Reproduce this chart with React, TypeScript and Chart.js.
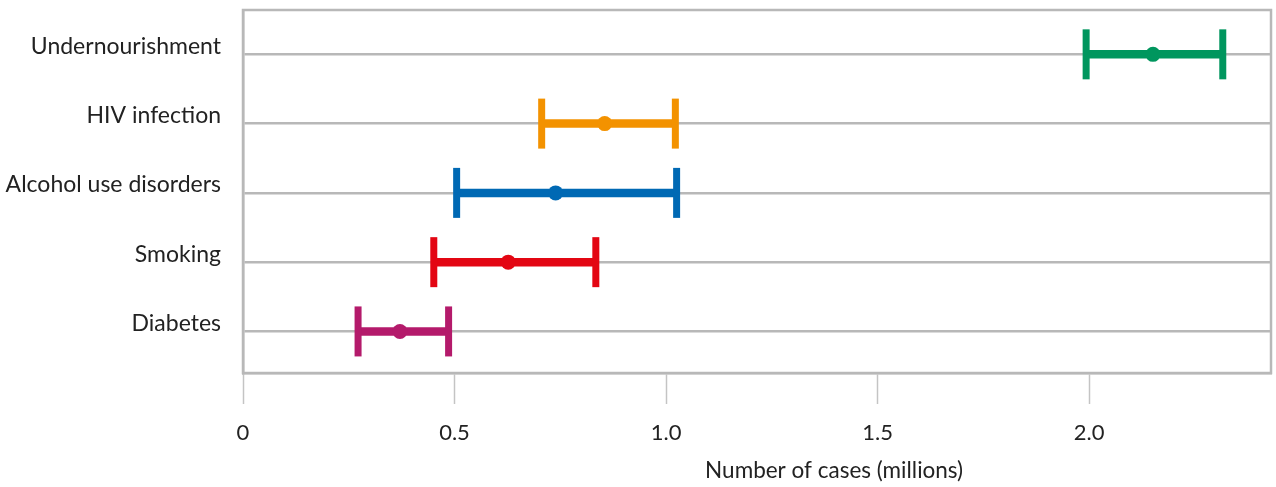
import React, { useEffect, useRef } from "react";
import { Chart, registerables } from "chart.js";

Chart.register(...registerables);

const CATEGORIES = ["Undernourishment", "HIV infection", "Alcohol use disorders", "Smoking", "Diabetes"];
const LOW = [1.993, 0.706, 0.505, 0.451, 0.272];
const MEAN = [2.151, 0.855, 0.739, 0.627, 0.371];
const HIGH = [2.316, 1.022, 1.025, 0.834, 0.486];
const COLORS = ["#00965e", "#f39200", "#0069b4", "#e30613", "#b41a6b"];
const X_TICKS = [0, 0.5, 1.0, 1.5, 2.0];
const X_TICK_LABELS = ["0", "0.5", "1.0", "1.5", "2.0"];
const X_TITLE = "Number of cases (millions)";

const FONT = "Lato, 'Open Sans', sans-serif";
const GRID = "#b8b8b8";
const TEXT = "#222222";

const boxPlugin = {
  id: "boxPlugin",
  beforeDatasetsDraw(chart: any) {
    const { ctx, chartArea } = chart;
    ctx.save();
    ctx.strokeStyle = GRID;
    ctx.lineWidth = 2.5;
    ctx.strokeRect(chartArea.left, chartArea.top, chartArea.right - chartArea.left, chartArea.bottom - chartArea.top);
    ctx.restore();
  },
  afterDraw(chart: any) {
    const { ctx, chartArea } = chart;
    ctx.save();
    ctx.fillStyle = TEXT;
    ctx.font = `22.5px ${FONT}`;
    ctx.textAlign = "center";
    ctx.textBaseline = "middle";
    const x = chartArea.left + (chartArea.right - chartArea.left) * 0.575;
    ctx.fillText(X_TITLE, x, 471);
    ctx.restore();
  },
};

export default function App() {
  const ref = useRef<HTMLCanvasElement>(null);

  useEffect(() => {
    document.body.style.margin = "0";
    const bars = CATEGORIES.map((c, i) => ({
      type: "line" as const,
      label: c,
      data: [
        { x: LOW[i], y: i },
        { x: HIGH[i], y: i },
      ],
      borderColor: COLORS[i],
      borderWidth: 8.5,
      pointStyle: "line" as const,
      pointRotation: 90,
      pointRadius: 25,
      pointHoverRadius: 25,
      pointBorderWidth: 7,
      pointBorderColor: COLORS[i],
      pointBackgroundColor: COLORS[i],
      clip: false,
      order: 1,
    }));
    const means = {
      type: "scatter" as const,
      label: "mean",
      data: MEAN.map((m, i) => ({ x: m, y: i })),
      backgroundColor: COLORS,
      borderWidth: 0,
      pointRadius: 7.5,
      clip: false,
      order: 0,
    };
    const chart = new Chart(ref.current as HTMLCanvasElement, {
      type: "line",
      data: { datasets: [...bars, means] as any },
      options: {
        animation: false,
        responsive: false,
        devicePixelRatio: 1,
        layout: { autoPadding: false, padding: { top: 10, right: 5, left: 0, bottom: 0 } },
        plugins: { legend: { display: false }, tooltip: { enabled: false } },
        scales: {
          x: {
            type: "linear",
            min: 0,
            max: 2.43,
            afterBuildTicks: (s: any) => {
              s.ticks = X_TICKS.map((v) => ({ value: v }));
            },
            afterFit: (s: any) => {
              s.height = 114;
              s.paddingLeft = 0;
              s.paddingRight = 0;
            },
            ticks: {
              callback: (v: any) => X_TICK_LABELS[X_TICKS.indexOf(Number(v))] ?? "",
              font: { family: FONT, size: 22 },
              color: TEXT,
              padding: 16,
              maxRotation: 0,
              autoSkip: false,
            },
            grid: {
              drawOnChartArea: false,
              drawTicks: true,
              tickLength: 31,
              tickColor: "#c4c4c4",
              tickWidth: 1.5,
            },
            border: { display: true, color: GRID, width: 2.5 },
          },
          y: {
            type: "linear",
            reverse: true,
            min: -0.64,
            max: 4.6,
            afterBuildTicks: (s: any) => {
              s.ticks = CATEGORIES.map((_, i) => ({ value: i }));
            },
            afterFit: (s: any) => {
              s.width = 243;
              s.paddingTop = 0;
              s.paddingBottom = 0;
            },
            ticks: {
              callback: (v: any) => CATEGORIES[Number(v)] ?? "",
              font: { family: FONT, size: 23 },
              color: TEXT,
              padding: 22,
              labelOffset: -8,
              autoSkip: false,
            },
            grid: {
              drawTicks: false,
              color: GRID,
              lineWidth: 2.5,
            },
            border: { display: true, color: GRID, width: 2.5 },
          },
        },
      },
      plugins: [boxPlugin],
    });
    return () => chart.destroy();
  }, []);

  return (
    <div style={{ width: 1276, height: 487 }}>
      <canvas ref={ref} width={1276} height={487} />
    </div>
  );
}
